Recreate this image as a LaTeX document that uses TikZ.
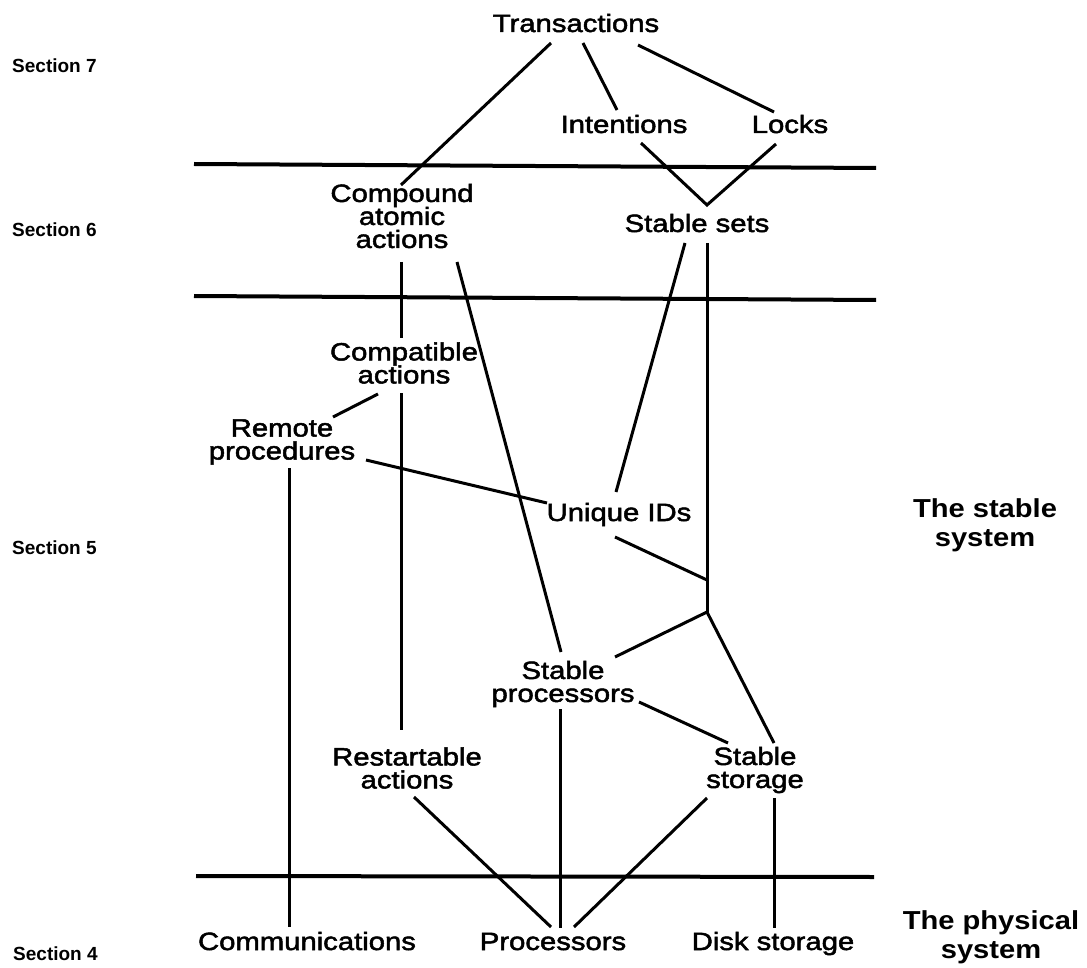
\documentclass[tikz,border=0pt]{standalone}
\usepackage{fontspec}
\newfontfamily\lblfont{Liberation Sans}[FakeStretch=1.17,FakeBold=2]
\newfontfamily\sidefont{Liberation Sans}[FakeStretch=1.12]
\newfontfamily\secfont{Liberation Sans}
\usetikzlibrary{calc}
\lineskiplimit=-30pt
\begin{document}
\begin{tikzpicture}[x=1pt,y=-1pt,
  lbl/.style={inner sep=0pt, align=center, font=\lblfont\fontsize{25}{23}\selectfont},
  side/.style={inner sep=0pt, align=center, font=\sidefont\bfseries\fontsize{26}{29}\selectfont},
  sec/.style={inner sep=0pt, anchor=base west, font=\secfont\bfseries\fontsize{19}{19}\selectfont},
  link/.style={line width=3pt},
  level/.style={line width=4pt}]
\useasboundingbox[fill=white] (0,0) rectangle (1087,968);

% level lines
\coordinate (h1l) at (194,164); \coordinate (h1r) at (876,168);
\coordinate (h2l) at (194,296); \coordinate (h2r) at (876,300);
\coordinate (h3l) at (196,876); \coordinate (h3r) at (874,877);
\draw[level] (h1l) -- (h1r);
\draw[level] (h2l) -- (h2r);
\draw[level] (h3l) -- (h3r);

% section labels
\node[sec] (sec7) at (12,73) {Section 7};
\node[sec] (sec6) at (12,237) {Section 6};
\node[sec] (sec5) at (12,554) {Section 5};
\node[sec] (sec4) at (13,960) {Section 4};

% side labels
\node[side] (stablesys) at (985,525) {The stable\\system};
\node[side] (physsys) at (991,937) {The physical\\system};

% single-line nodes (base anchored)
\node[lbl, anchor=base] (trans) at (576,32) {Transactions};
\node[lbl, anchor=base] (inten) at (624,133) {Intentions};
\node[lbl, anchor=base] (locks) at (790,133) {Locks};
\node[lbl, anchor=base] (stsets) at (697,232) {Stable sets};
\node[lbl, anchor=base] (unique) at (619,521) {Unique IDs};
\node[lbl, anchor=base] (comm) at (307,950) {Communications};
\node[lbl, anchor=base] (procs) at (553,950) {Processors};
\node[lbl, anchor=base] (disk) at (773,950) {Disk storage};

% multi-line nodes (centre anchored)
\node[lbl] (compound) at (402,216) {Compound\\atomic\\actions};
\node[lbl] (compat) at (404,363) {Compatible\\actions};
\node[lbl] (remote) at (282,442) {Remote\\procedures};
\node[lbl] (stproc) at (563,684) {Stable\\processors};
\node[lbl] (restart) at (407,768) {Restartable\\actions};
\node[lbl] (ststor) at (755,770) {Stable\\storage};

% junction on the stable-sets line
\coordinate (jn) at (707,612);

% connectors
\draw[link] ($(trans.base)+(-25,11)$) -- ($(compound.center)+(-1,-31)$);
\draw[link] ($(trans.base)+(7,11)$) -- ($(inten.base)+(-7,-23)$);
\draw[link] ($(trans.base)+(62,13)$) -- ($(locks.base)+(-16,-21)$);
\draw[link] ($(inten.base)+(17,10)$) -- ($(stsets.base)+(10,-27)$) -- ($(locks.base)+(-14,11)$);
\draw[link] ($(compound.center)+(-1,46)$) -- ($(compat.center)+(-3,-25)$);
\draw[link] ($(compound.center)+(55,46)$) -- ($(stproc.center)+(-2,-32)$);
\draw[link] ($(stsets.base)+(-12,11)$) -- ($(unique.base)+(-3,-29)$);
\draw[link] ($(stsets.base)+(10,11)$) -- (jn);
\draw[link] ($(unique.base)+(-4,16)$) -- ($(jn)+(0,-32)$);
\draw[link] (jn) -- ($(stproc.center)+(52,-27)$);
\draw[link] (jn) -- ($(ststor.center)+(19,-27)$);
\draw[link] ($(compat.center)+(-3,30)$) -- ($(restart.center)+(-6,-38)$);
\draw[link] ($(compat.center)+(-26,31)$) -- ($(remote.center)+(51,-25)$);
\draw[link] ($(remote.center)+(84,18)$) -- ($(unique.base)+(-72,-18)$);
\draw[link] ($(remote.center)+(7,26)$) -- ($(comm.base)+(-18,-23)$);
\draw[link] ($(stproc.center)+(-3,25)$) -- ($(procs.base)+(7,-22)$);
\draw[link] ($(stproc.center)+(76,18)$) -- ($(ststor.center)+(-27,-27)$);
\draw[link] ($(restart.center)+(7,29)$) -- ($(procs.base)+(-2,-23)$);
\draw[link] ($(ststor.center)+(-48,28)$) -- ($(procs.base)+(21,-23)$);
\draw[link] ($(ststor.center)+(19,28)$) -- ($(disk.base)+(1,-22)$);
\end{tikzpicture}
\end{document}
